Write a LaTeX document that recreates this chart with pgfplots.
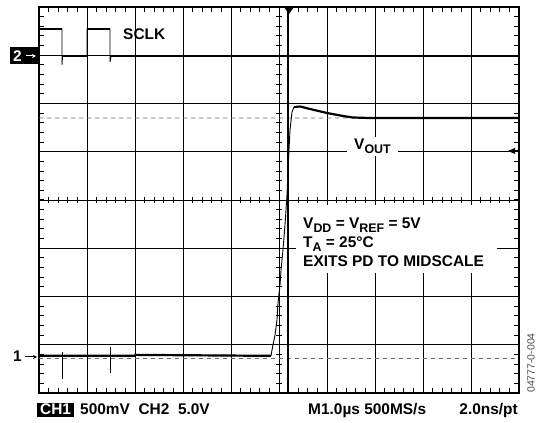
\documentclass[border=0pt]{standalone}
\usepackage{fontspec}
\setmainfont{Liberation Sans}
\usepackage{pgfplots}
\pgfplotsset{compat=1.18}
\usetikzlibrary{arrows.meta}
\newcommand\bt{\fontsize{15.5}{18}\selectfont\bfseries}
\newcommand\sub[1]{\raisebox{-3.5bp}{\fontsize{12.5}{14}\selectfont\bfseries #1}}
\begin{document}
\begin{tikzpicture}
\useasboundingbox (0,0) rectangle (550bp,423bp);
\begin{axis}[
  at={(39bp,30bp)}, anchor=south west,
  width=480bp, height=386bp, scale only axis,
  xmin=0, xmax=10, ymin=0, ymax=8,
  xtick={0,...,10}, ytick={0,...,8},
  xticklabels={}, yticklabels={},
  major tick length=0pt,
  grid=major, major grid style={black, line width=0.9bp},
  axis line style={black, line width=1.6bp},
]
% reference dashed levels
\addplot[gray!80!black, line width=0.8bp, dash pattern=on 4bp off 4bp] coordinates {(0,5.70) (9.6,5.70) (10,5.72)};
\addplot[gray!80!black, line width=0.8bp, dash pattern=on 4bp off 4bp] coordinates {(0,0.725) (10,0.725)};
% trigger position line
\draw[black, line width=1.1bp] (axis cs:5.1875,0) -- (axis cs:5.1875,8);
% SCLK (CH2) thin full trace
\addplot[black, line width=0.9bp] coordinates {
 (0,7.54) (0.479,7.54) (0.479,6.80) (0.49,6.98) (1.0,6.98) (1.0,7.54)
 (1.479,7.54) (1.479,6.86) (1.50,6.98) (10,6.98)};
% SCLK thick levels
\addplot[black, line width=2.4bp, unbounded coords=jump] coordinates {
 (0,7.54) (0.479,7.54) (nan,nan)
 (0.49,6.98) (1.0,6.98) (nan,nan)
 (1.0,7.54) (1.479,7.54) (nan,nan)
 (1.49,6.98) (1.8,6.98) (nan,nan)
 (7.5,6.98) (10,6.98)};
\addplot[black, line width=1.6bp] coordinates {(1.8,6.98) (7.5,6.98)};
% VOUT (CH1) baseline
\addplot[black, line width=2.2bp] coordinates {(0,0.77) (2.0,0.77) (2.01,0.79) (4.83,0.77)};
% clock feedthrough spikes
\addplot[black, line width=0.9bp, unbounded coords=jump] coordinates {
 (0.479,0.85) (0.479,0.29) (nan,nan)
 (1.0,1.20) (1.0,0.23) (nan,nan)
 (1.479,0.95) (1.479,0.42)};
% rising edge
\addplot[black, line width=0.9bp] coordinates {
 (4.833,0.77) (4.854,0.891) (4.917,1.202) (4.958,1.513) (4.979,1.865)
 (5.021,2.238) (5.042,2.549) (5.083,2.964) (5.125,3.482) (5.167,4.104)
 (5.188,4.622) (5.208,5.036) (5.229,5.451) (5.271,5.824) (5.313,5.927)};
% settled output with overshoot
\addplot[black, line width=2.2bp] coordinates {
 (5.313,5.927) (5.438,5.938) (5.646,5.886) (6.0,5.803) (6.333,5.741)
 (6.542,5.710) (6.896,5.699) (10,5.699)};
\end{axis}
% graticule minor ticks (frame and centre axes), 0.2 division spacing
\foreach \i in {1,...,49}{
  \pgfmathsetmacro\xx{39+\i*9.6}
  \draw[black, line width=1bp] (\xx bp,416bp) -- (\xx bp,411bp);
  \draw[black, line width=1bp] (\xx bp,30bp) -- (\xx bp,35bp);
  \draw[black, line width=0.9bp] (\xx bp,220bp) -- (\xx bp,226bp);
}
\foreach \i in {1,...,39}{
  \pgfmathsetmacro\yy{30+\i*9.65}
  \draw[black, line width=1bp] (39bp,\yy bp) -- (44bp,\yy bp);
  \draw[black, line width=1bp] (519bp,\yy bp) -- (514bp,\yy bp);
  \draw[black, line width=0.9bp] (276bp,\yy bp) -- (282bp,\yy bp);
}
% trigger marker
\fill[black] (284bp,416bp) -- (294bp,416bp) -- (289bp,409bp) -- cycle;
% right edge level marker
\fill[black] (508bp,272bp) -- (515bp,275bp) -- (515bp,269bp) -- cycle;
\draw[black, line width=1bp] (512bp,272bp) -- (519bp,272bp);
% SCLK label
\node[anchor=base west, inner sep=0pt] at (123bp,383.7bp) {\bt SCLK};
% VOUT label
\node[anchor=base, fill=white, inner xsep=7.5bp, inner ysep=2bp] at (372.5bp,273bp) {\bt V\sub{OUT}};
% condition text block
\fill[white] (296bp,150bp) rectangle (497bp,218bp);
\node[anchor=base west, inner sep=0pt] at (303bp,194bp) {\bt V\sub{DD} = V\sub{REF} = 5V};
\node[anchor=base west, inner sep=0pt] at (303bp,175bp) {\bt T\sub{A} = 25°C};
\node[anchor=base west, inner sep=0pt] at (303bp,156bp) {\bt EXITS PD TO MIDSCALE};
% channel markers
\fill[black] (10bp,358.5bp) rectangle (38bp,375.5bp);
\node[anchor=base west, inner sep=0pt, text=white] at (13bp,361.5bp) {\bt 2};
\draw[white, line width=1bp, -{Stealth[length=4bp,width=4bp]}] (26bp,367bp) -- (36bp,367bp);
\node[anchor=base west, inner sep=0pt] at (13bp,61bp) {\bt 1};
\draw[black, line width=1bp, -{Stealth[length=4bp,width=4bp]}] (25bp,66bp) -- (37bp,66bp);
% bottom status line
\fill[black] (37bp,5.5bp) rectangle (74bp,20bp);
\node[anchor=base west, inner sep=0pt, text=white] at (40bp,8.5bp) {\bt CH1};
\node[anchor=base west, inner sep=0pt] at (80bp,8.5bp) {\bt 500mV\ \ CH2\ \ 5.0V};
\node[anchor=base west, inner sep=0pt] at (308bp,8.5bp) {\bt M1.0µs 500MS/s};
\node[anchor=base east, inner sep=0pt] at (518bp,8.5bp) {\bt 2.0ns/pt};
% figure code
\node[rotate=90, inner sep=0pt, text=black!70] at (531bp,60bp) {\fontsize{10.5}{12}\selectfont 04777-0-004};
\end{tikzpicture}
\end{document}
